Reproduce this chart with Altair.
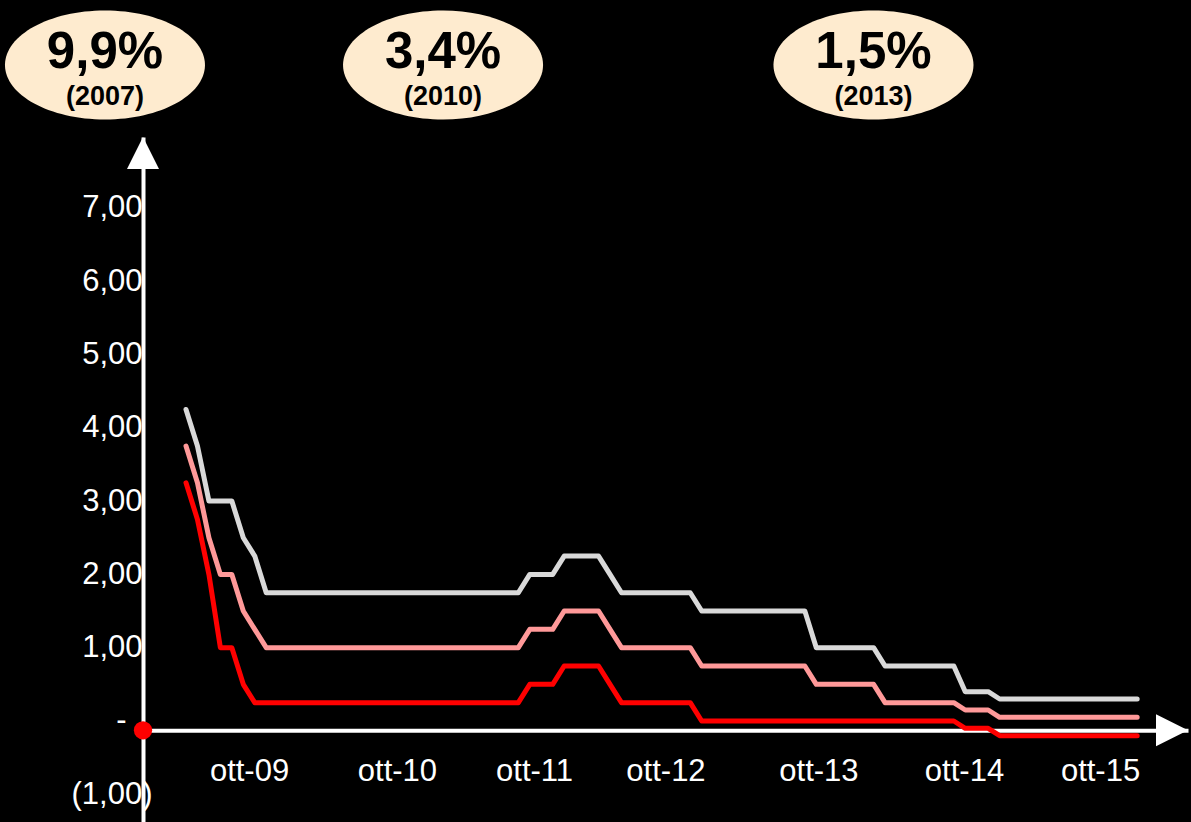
import altair as alt
import pandas as pd

# ECB policy rates, end of month, Oct 2008 - Sep 2015 (one row per year)
marginale = [
    4.25, 3.75, 3.00,
    3.00, 3.00, 2.50, 2.25, 1.75, 1.75, 1.75, 1.75, 1.75, 1.75, 1.75, 1.75,
    1.75, 1.75, 1.75, 1.75, 1.75, 1.75, 1.75, 1.75, 1.75, 1.75, 1.75, 1.75,
    1.75, 1.75, 1.75, 2.00, 2.00, 2.00, 2.25, 2.25, 2.25, 2.25, 2.00, 1.75,
    1.75, 1.75, 1.75, 1.75, 1.75, 1.75, 1.50, 1.50, 1.50, 1.50, 1.50, 1.50,
    1.50, 1.50, 1.50, 1.50, 1.00, 1.00, 1.00, 1.00, 1.00, 1.00, 0.75, 0.75,
    0.75, 0.75, 0.75, 0.75, 0.75, 0.40, 0.40, 0.40, 0.30, 0.30, 0.30, 0.30,
    0.30, 0.30, 0.30, 0.30, 0.30, 0.30, 0.30, 0.30, 0.30,
]
rifinanziamento = [
    3.75, 3.25, 2.50,
    2.00, 2.00, 1.50, 1.25, 1.00, 1.00, 1.00, 1.00, 1.00, 1.00, 1.00, 1.00,
    1.00, 1.00, 1.00, 1.00, 1.00, 1.00, 1.00, 1.00, 1.00, 1.00, 1.00, 1.00,
    1.00, 1.00, 1.00, 1.25, 1.25, 1.25, 1.50, 1.50, 1.50, 1.50, 1.25, 1.00,
    1.00, 1.00, 1.00, 1.00, 1.00, 1.00, 0.75, 0.75, 0.75, 0.75, 0.75, 0.75,
    0.75, 0.75, 0.75, 0.75, 0.50, 0.50, 0.50, 0.50, 0.50, 0.50, 0.25, 0.25,
    0.25, 0.25, 0.25, 0.25, 0.25, 0.15, 0.15, 0.15, 0.05, 0.05, 0.05, 0.05,
    0.05, 0.05, 0.05, 0.05, 0.05, 0.05, 0.05, 0.05, 0.05,
]
deposito = [
    3.25, 2.75, 2.00,
    1.00, 1.00, 0.50, 0.25, 0.25, 0.25, 0.25, 0.25, 0.25, 0.25, 0.25, 0.25,
    0.25, 0.25, 0.25, 0.25, 0.25, 0.25, 0.25, 0.25, 0.25, 0.25, 0.25, 0.25,
    0.25, 0.25, 0.25, 0.50, 0.50, 0.50, 0.75, 0.75, 0.75, 0.75, 0.50, 0.25,
    0.25, 0.25, 0.25, 0.25, 0.25, 0.25, 0.00, 0.00, 0.00, 0.00, 0.00, 0.00,
    0.00, 0.00, 0.00, 0.00, 0.00, 0.00, 0.00, 0.00, 0.00, 0.00, 0.00, 0.00,
    0.00, 0.00, 0.00, 0.00, 0.00, -0.10, -0.10, -0.10, -0.20, -0.20, -0.20, -0.20,
    -0.20, -0.20, -0.20, -0.20, -0.20, -0.20, -0.20, -0.20, -0.20,
]

series_names = ["Rifinanziamento marginale", "Rifinanziamento principale", "Deposito"]
series_colors = ["#D9D9D9", "#FF9999", "#FF0000"]

# x axis: month index (0 = Oct 2008) and its labels
x_tick_values = [5.50, 18.41, 30.37, 41.84, 55.19, 67.89, 79.76]
x_tick_labels = ["ott-09", "ott-10", "ott-11", "ott-12", "ott-13", "ott-14", "ott-15"]

# y axis ticks and labels (accounting style)
y_tick_values = [-1, 0, 1, 2, 3, 4, 5, 6, 7]
y_tick_labels = ["(1,00)", "-", "1,00", "2,00", "3,00", "4,00", "5,00", "6,00", "7,00"]

# callouts above the plot
callout_values = ["9,9%", "3,4%", "1,5%"]
callout_years = ["(2007)", "(2010)", "(2013)"]
callout_x = [-7.07, 22.43, 59.99]
callout_y = 8.95

# scale extents and the level where the horizontal axis arrow runs
X_MIN, X_MAX = -3.752, 87.435
Y_MIN, Y_MAX = -1.378, 7.967
AXIS_CROSS = -0.127

W, H = 1045, 685
FONT = "Liberation Sans"

rows = []
for name, vals in zip(series_names, [marginale, rifinanziamento, deposito]):
    for i, v in enumerate(vals):
        rows.append({"x": i, "y": v, "serie": name})
df = pd.DataFrame(rows)

x_scale = alt.Scale(domain=[X_MIN, X_MAX], nice=False, zero=False)
y_scale = alt.Scale(domain=[Y_MIN, Y_MAX], nice=False, zero=False)

x_offset = H * (Y_MAX - AXIS_CROSS) / (Y_MAX - Y_MIN) - H

x_label_expr = f"{x_tick_labels}[indexof({x_tick_values}, datum.value)]"
y_label_expr = f"{y_tick_labels}[indexof({y_tick_values}, datum.value)]"

# accounting alignment: negatives overhang by the closing parenthesis,
# the zero dash sits further left
y_label_padding = {
    "condition": [
        {"test": "datum.value < 0", "value": -9},
        {"test": "datum.value == 0", "value": 17},
    ],
    "value": 1,
}

x_axis = alt.Axis(
    values=x_tick_values, labelExpr=x_label_expr, title=None, grid=False,
    ticks=False, domainColor="white", domainWidth=4, labelColor="white",
    labelFont=FONT, labelFontSize=31, labelBaseline="alphabetic",
    labelPadding=50, labelFlush=False, labelOverlap=False, offset=x_offset,
    zindex=0,
)
y_axis = alt.Axis(
    values=y_tick_values, labelExpr=y_label_expr, title=None, grid=False,
    ticks=False, domainColor="white", domainWidth=4, labelColor="white",
    labelFont=FONT, labelFontSize=31, labelAlign="right",
    labelBaseline="middle", labelPadding=y_label_padding,
    labelOverlap=False, zindex=0,
)

# every layer shares the same position encodings, so scales and axes merge
X_ENC = alt.X("x:Q", scale=x_scale, axis=x_axis)
Y_ENC = alt.Y("y:Q", scale=y_scale, axis=y_axis)

lines = alt.Chart(df).mark_line(
    strokeWidth=5, strokeCap="round", strokeJoin="round"
).encode(
    x=X_ENC, y=Y_ENC,
    color=alt.Color("serie:N", scale=alt.Scale(domain=series_names, range=series_colors), legend=None),
)

# arrowheads at the ends of both axes, and the red dot at the origin
UP_ARROW = "M0,0L1,2L-1,2Z"
RIGHT_ARROW = "M0,0L-2,-1L-2,1Z"
arrow_up = alt.Chart(pd.DataFrame({"x": [X_MIN], "y": [Y_MAX]})).mark_point(
    shape=UP_ARROW, size=1024, filled=True, color="white", opacity=1
).encode(x=X_ENC, y=Y_ENC)
arrow_right = alt.Chart(pd.DataFrame({"x": [X_MAX], "y": [AXIS_CROSS]})).mark_point(
    shape=RIGHT_ARROW, size=1024, filled=True, color="white", opacity=1
).encode(x=X_ENC, y=Y_ENC)
origin = alt.Chart(pd.DataFrame({"x": [X_MIN], "y": [AXIS_CROSS]})).mark_point(
    shape="circle", size=335, filled=True, color="#FF0000", opacity=1
).encode(x=X_ENC, y=Y_ENC)

# callout ellipses with their figures
ELLIPSE = ("M-1,0C-1,-0.301,-0.5523,-0.545,0,-0.545C0.5523,-0.545,1,-0.301,1,0"
           "C1,0.301,0.5523,0.545,0,0.545C-0.5523,0.545,-1,0.301,-1,0Z")
cdf = pd.DataFrame({"x": callout_x, "y": [callout_y] * 3,
                    "valore": callout_values, "anno": callout_years})
ellipses = alt.Chart(cdf).mark_point(
    shape=ELLIPSE, size=40000, filled=True, color="#FEEBCF", opacity=1
).encode(x=X_ENC, y=Y_ENC)
big_text = alt.Chart(cdf).mark_text(
    font=FONT, fontSize=51, fontWeight="bold", color="black",
    baseline="alphabetic", align="center", dy=3
).encode(x=X_ENC, y=Y_ENC, text="valore:N")
year_text = alt.Chart(cdf).mark_text(
    font=FONT, fontSize=27, fontWeight="bold", color="black",
    baseline="alphabetic", align="center", dy=40
).encode(x=X_ENC, y=Y_ENC, text="anno:N")

chart = alt.layer(
    lines, arrow_up, arrow_right, origin, ellipses, big_text, year_text
).properties(
    width=W, height=H,
    padding={"left": 143, "top": 137, "right": 3, "bottom": 0},
    autosize=alt.AutoSizeParams(type="none"),
    background="black",
).configure_view(stroke="transparent")

chart.save("out.html", embed_options={"renderer": "svg", "actions": False})
